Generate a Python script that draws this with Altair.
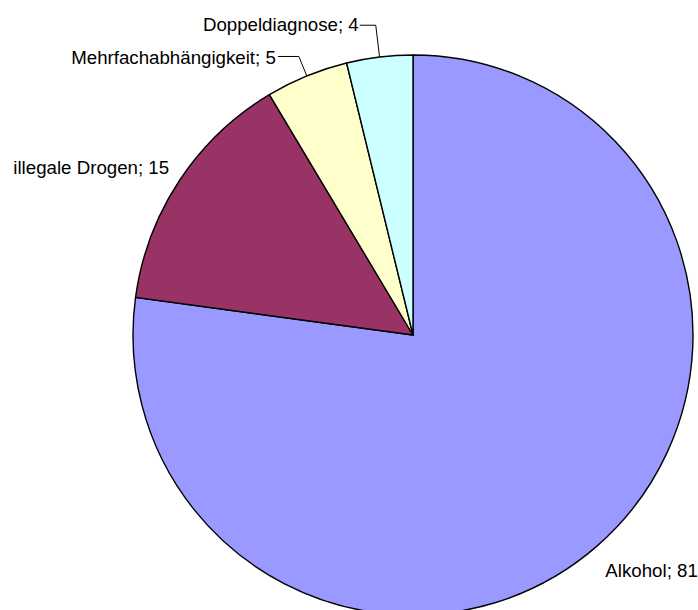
import altair as alt
import pandas as pd

# Verteilung der Hauptdiagnosen
categories = ["Alkohol", "illegale Drogen", "Mehrfachabhängigkeit", "Doppeldiagnose"]
values = [81, 15, 5, 4]
colors = ["#9999FF", "#993366", "#FFFFCC", "#CCFFFF"]

df = pd.DataFrame({
    "kategorie": categories,
    "anzahl": values,
    "reihenfolge": list(range(len(categories))),
})
df["beschriftung"] = df["kategorie"] + "; " + df["anzahl"].astype(str)

W, H = 698, 610
CX, CY, R = 413, 335, 280
FONT = "Liberation Sans"
FS = 18.7
CAP = 0.358 * FS  # halbe Versalhöhe, damit der Text mittig am Ankerpunkt sitzt

base = alt.Chart(df)

theta = alt.Theta("anzahl:Q", stack=True)
order = alt.Order("reihenfolge:Q")

pie = base.mark_arc(outerRadius=R, stroke="black", strokeWidth=1.4).encode(
    theta=theta,
    order=order,
    color=alt.Color("kategorie:N", scale=alt.Scale(domain=categories, range=colors), legend=None),
    x=alt.value(CX),
    y=alt.value(CY),
)


def label(name, radius, align, dx=0, dy=0):
    return base.mark_text(
        radius=radius, align=align, baseline="alphabetic", font=FONT, fontSize=FS,
        color="black", dx=dx, dy=dy + CAP,
    ).encode(
        theta=theta,
        order=order,
        text=alt.condition(alt.datum.kategorie == name, "beschriftung:N", alt.value("")),
        x=alt.value(CX),
        y=alt.value(CY),
    )


# Knickradius und Abstand zum Text der Führungslinien je Kategorie
knick = "datum.kategorie == 'Doppeldiagnose' ? 312 : 301"
abstand = "datum.kategorie == 'Doppeldiagnose' ? 16 : 21"

leaders = (
    base.transform_window(cum="sum(anzahl)", sort=[alt.SortField("reihenfolge")], frame=[None, 0])
    .transform_joinaggregate(gesamt="sum(anzahl)")
    .transform_filter(alt.FieldOneOfPredicate(field="kategorie", oneOf=["Mehrfachabhängigkeit", "Doppeldiagnose"]))
    .transform_calculate(
        mitte="2 * PI * (datum.cum - datum.anzahl / 2) / datum.gesamt",
        rk=knick,
        ab=abstand,
        punkte="[0, 1, 2]",
    )
    .transform_flatten(["punkte"])
    .transform_calculate(
        kx=f"{CX} + datum.rk * sin(datum.mitte)",
        ky=f"{CY} - datum.rk * cos(datum.mitte)",
    )
    .transform_calculate(
        px=f"datum.punkte == 0 ? datum.kx - datum.ab : (datum.punkte == 1 ? datum.kx : {CX} + {R} * sin(datum.mitte))",
        py=f"datum.punkte == 2 ? {CY} - {R} * cos(datum.mitte) : datum.ky",
    )
    .mark_line(color="black", strokeWidth=1)
    .encode(
        x=alt.X("px:Q", scale=None, axis=None),
        y=alt.Y("py:Q", scale=None, axis=None),
        detail="kategorie:N",
        order="punkte:Q",
    )
)

chart = (
    alt.layer(
        pie,
        leaders,
        label("Alkohol", 303, "left", dx=-7, dy=7),
        label("illegale Drogen", 297, "right", dx=4, dy=-4),
        label("Mehrfachabhängigkeit", 301, "right", dx=-23, dy=1),
        label("Doppeldiagnose", 312, "right", dx=-17, dy=-1),
    )
    .properties(width=W, height=H, autosize="none", padding=0, background="white")
    .configure_view(strokeWidth=0)
)

chart.save("out.html", embed_options={"renderer": "svg", "actions": False})
